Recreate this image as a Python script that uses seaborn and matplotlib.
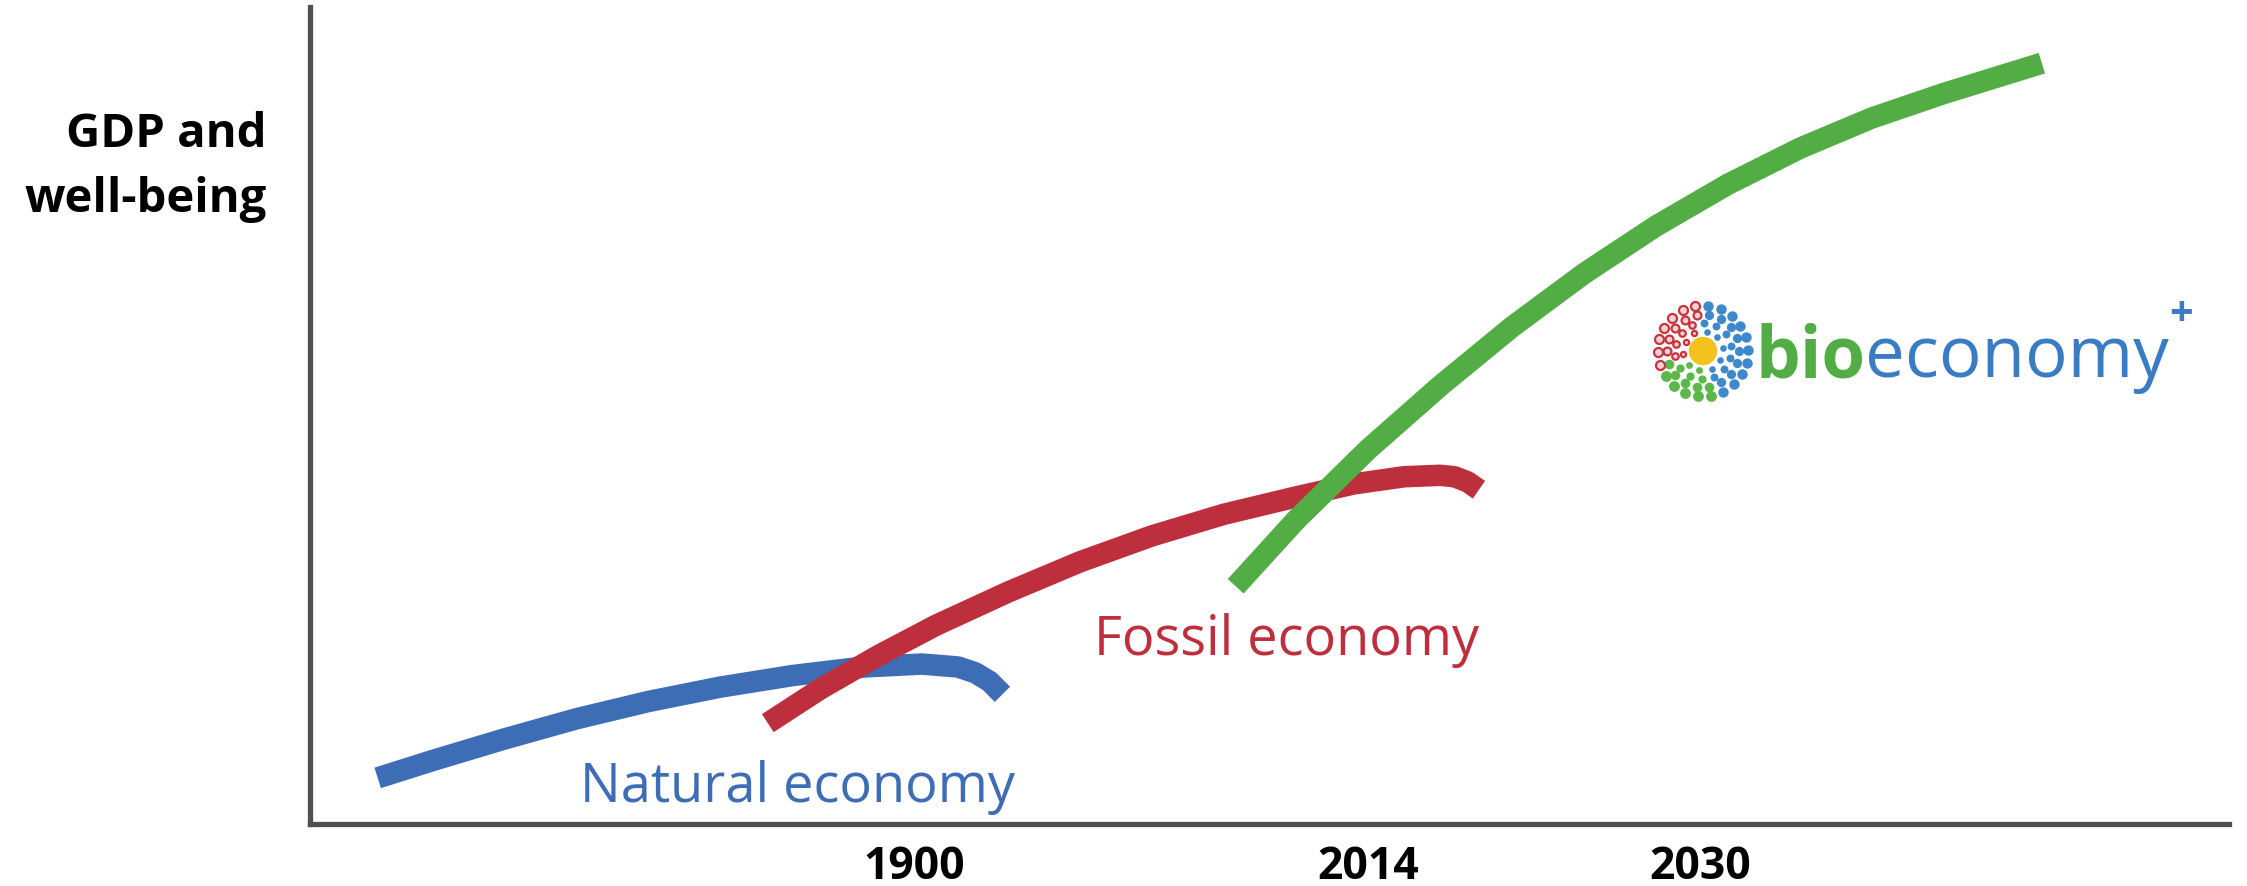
import numpy as np
import matplotlib
matplotlib.use("Agg")
import matplotlib.pyplot as plt
import seaborn as sns

# points: x runs along the time axis, y is the GDP / well-being level
# (axis units: x 0..1333, y 0..567)
natural_x = [47, 85, 135, 185, 235, 285, 335, 385, 425, 450, 462, 472, 481]
natural_y = [32, 44, 59, 73, 85, 95, 103, 109, 111, 109, 105, 99, 90]

fossil_x = [318, 355, 395, 435, 485, 535, 585, 635, 685, 725, 760, 785, 795, 804, 812]
fossil_y = [70, 94, 117, 138, 161, 182, 200, 215, 227, 236, 241, 242, 241, 237.5, 232]

bio_x = [643, 685, 735, 785, 835, 885, 935, 985, 1035, 1085, 1135, 1203]
bio_y = [165, 211, 260, 304, 345, 382, 415, 444, 469, 490, 507, 528]

tick_pos = [420, 735, 966]
tick_labels = ["1900", "2014", "2030"]

BLUE = "#3d6db5"
RED = "#be2f3d"
GREEN = "#52ad45"
LOGO_BLUE = "#3a7cc4"

sns.set_theme(style="white")
plt.rcParams["font.family"] = ["Open Sans", "DejaVu Sans"]

W, H = 2247, 886
fig = plt.figure(figsize=(W / 100, H / 100), dpi=100)
ax = fig.add_axes([310 / W, 62 / H, 1919 / W, 817 / H])

# the three economies
for xs, ys, col in [(natural_x, natural_y, BLUE),
                    (fossil_x, fossil_y, RED),
                    (bio_x, bio_y, GREEN)]:
    sns.lineplot(x=xs, y=ys, ax=ax, color=col, linewidth=15.5, sort=False,
                 solid_capstyle="butt", solid_joinstyle="round")

ax.set_xlim(0, 1333)
ax.set_ylim(0, 567)
for side in ["top", "right"]:
    ax.spines[side].set_visible(False)
for side in ["left", "bottom"]:
    ax.spines[side].set_color("#505050")
    ax.spines[side].set_linewidth(3.8)
ax.set_yticks([])
ax.set_xticks(tick_pos, tick_labels)
ax.tick_params(axis="x", length=0, pad=15, labelsize=32, labelcolor="black")
for lab in ax.get_xticklabels():
    lab.set_fontweight("bold")
ax.set_xlabel("")
ax.set_ylabel("")

# curve labels
ax.text(490, 15, "Natural economy", color=BLUE, fontsize=39,
        ha="right", va="baseline")
ax.text(812, 117, "Fossil economy", color=RED, fontsize=39,
        ha="right", va="baseline")

# y axis caption
fig.text(267 / W, (H - 147) / H, "GDP and", fontsize=34, fontweight="bold",
         ha="right", va="baseline", color="black")
fig.text(267 / W, (H - 212) / H, "well-being", fontsize=34, fontweight="bold",
         ha="right", va="baseline", color="black")

# bioeconomy+ logo text
t_bio = ax.text(1004, 310, "bio", color=GREEN, fontsize=51, fontweight="bold",
                ha="left", va="baseline")
t_eco = ax.annotate("economy", xy=(1, 0), xycoords=t_bio, color=LOGO_BLUE,
                    fontsize=51, ha="left", va="bottom")
ax.annotate("+", xy=(1, 1), xycoords=t_eco, xytext=(0, 5),
            textcoords="offset points", color=LOGO_BLUE, fontsize=30,
            fontweight="bold", ha="left", va="center")

# flower mark of the logo
logo = fig.add_axes([(1703 - 52) / W, (H - 351 - 52) / H, 104 / W, 104 / H])
logo.set_xlim(-1, 1)
logo.set_ylim(-1, 1)
logo.set_aspect("equal")
logo.axis("off")
logo.add_patch(plt.Circle((0, 0), 0.26, color="#f4c21c"))
for r, n, s in [(0.38, 10, 14), (0.54, 14, 22), (0.70, 18, 32), (0.87, 22, 42)]:
    for k in range(n):
        a = 2 * np.pi * k / n + r * 2
        deg = np.degrees(a) % 360
        px, py = r * np.cos(a), r * np.sin(a)
        if 92 <= deg < 200:
            logo.scatter(px, py, s=s, facecolor="#f6d3d5", edgecolor="#c9323f",
                         linewidth=1.6, zorder=3)
        elif 200 <= deg < 285:
            logo.scatter(px, py, s=s * 1.1, color="#5db84a", marker="o", zorder=3)
        else:
            logo.scatter(px, py, s=s, color="#3e88cc", marker="o", zorder=3)

fig.savefig("out.png", dpi=100)
